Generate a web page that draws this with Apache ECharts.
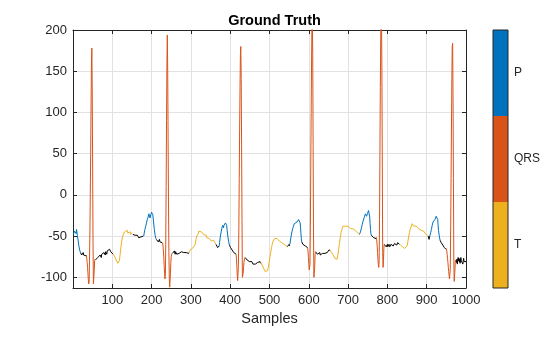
<!DOCTYPE html>
<html>
<head>
<meta charset="utf-8">
<script src="https://cdn.jsdelivr.net/npm/echarts/dist/echarts.min.js"></script>
<style>
  html, body { margin: 0; padding: 0; background: #fff; }
  #chart { width: 560px; height: 337px; }
</style>
</head>
<body>
<div id="chart"></div>
<script>
// ECG trace: [sample index, amplitude]
const ecgTrace = [
  [1,-48],[2,-46],[3,-47],[4,-44],[5,-46],[6,-45],[7,-43],[8,-47],[9,-42],[10,-44],[11,-49],[13,-55],[15,-62],[17,-67],[19,-70],
  [20,-72],[21,-69],[22,-73],[23,-71],[24,-74],[25,-72],[26,-70],[27,-73],[28,-72],[29,-75],[30,-71],[31,-73],[32,-72],[33,-74],[34,-73],
  [35,-77],[36,-82],[37,-88],[38,-95],[39,-103],[40,-108],[41,-105],[42,-80],[43,-45],[44,0],[45,50],[46,110],[47,160],[48,178],[49,120],[50,30],[51,-60],[52,-108],[53,-107],[54,-92],[55,-80],[56,-78],[57,-79],
  [58,-80],[59,-78],[60,-80],[61,-77],[62,-79],[63,-76],[64,-78],[65,-75],[66,-77],[67,-74],[68,-76],[69,-73],[70,-75],[71,-74],[72,-76],[73,-72],[74,-74],[75,-71],[76,-73],[77,-72],[78,-74],[79,-70],[80,-72],[81,-71],[82,-73],[83,-69],[84,-71],[85,-70],[86,-72],[87,-68],[88,-70],[89,-69],[90,-67],[91,-69],[92,-68],[93,-66],[94,-68],[95,-67],[96,-69],[97,-68],[98,-70],[99,-69],[100,-71],[101,-70],[102,-72],[103,-72],
  [104,-73],[106,-75],[108,-77],[110,-79],[112,-81],[114,-83],[116,-84],[118,-80],[120,-72],[122,-63],[124,-56],[126,-51],[128,-48],[130,-47],[131,-45],[132,-46],[134,-44],[135,-46],[136,-45],[138,-43],[139,-46],[140,-45],[142,-44],[143,-47],[144,-46],[146,-45],[147,-48],[148,-47],[150,-46],[152,-48],
  [153,-47],[154,-49],[155,-48],[156,-50],[157,-48],[158,-49],[159,-51],[160,-49],[161,-50],[162,-48],[163,-50],[164,-49],[165,-51],[166,-50],[167,-52],[168,-50],[169,-51],[170,-53],[171,-52],[172,-54],[173,-51],[174,-53],[175,-50],[176,-52],[177,-49],[178,-51],[179,-50],[180,-50],
  [181,-47],[183,-42],[184,-40],[185,-38],[186,-37],[187,-34],[188,-33],[189,-30],[190,-29],[191,-27],[192,-26],[193,-23],[194,-22],[195,-25],[196,-28],[197,-26],[198,-24],[199,-23],[200,-21],[201,-19],[202,-20],[203,-24],[205,-33],[207,-42],[209,-49],[211,-53],[212,-54],
  [213,-55],[214,-53],[215,-56],[216,-54],[217,-57],[218,-55],[219,-56],[220,-54],[221,-57],[222,-55],[223,-58],[224,-56],[225,-57],[226,-55],[227,-58],[228,-58],
  [229,-62],[230,-68],[231,-76],[232,-86],[233,-95],[234,-102],[235,-98],[236,-60],[237,10],[238,90],[239,160],[240,194],[241,150],[242,70],[243,-10],[244,-70],[245,-100],[246,-112],[247,-111],[248,-95],[249,-82],[250,-75],[251,-72],[252,-71],[253,-71],
  [254,-70],[255,-72],[256,-69],[257,-71],[258,-68],[259,-70],[260,-72],[261,-69],[262,-71],[263,-70],[264,-72],[265,-70],[266,-73],[267,-71],[268,-72],[269,-70],[270,-71],[271,-69],[272,-71],[273,-70],[274,-72],[275,-70],[276,-69],[277,-71],[278,-68],[279,-70],[280,-69],[281,-71],[282,-70],[283,-72],[284,-69],[285,-71],[286,-70],[287,-68],[288,-70],[289,-69],[290,-71],[291,-70],[292,-72],[293,-70],[294,-71],[295,-70],
  [296,-70],[298,-67],[300,-66],[302,-66],[304,-65],[306,-66],[307,-67],[309,-65],[311,-60],[313,-54],[315,-50],[317,-48],[319,-47],[320,-44],[321,-45],[323,-46],[324,-43],[325,-44],[327,-45],[328,-47],[329,-46],[331,-45],[332,-48],[333,-47],[335,-48],[336,-46],[337,-50],[339,-49],[340,-52],[341,-51],[343,-50],[344,-53],[345,-52],[347,-53],[348,-51],[349,-54],[351,-53],[352,-56],[353,-55],[355,-56],[357,-57],[358,-55],[359,-56],[361,-58],[363,-59],[364,-60],
  [365,-60],[366,-62],[367,-61],[368,-64],[369,-62],[370,-65],[371,-63],[372,-62],
  [373,-58],[375,-50],[377,-45],[379,-40],[380,-38],[381,-37],[382,-38],[383,-40],[384,-37],[385,-38],[386,-35],[387,-37],[388,-34],[389,-36],[390,-35],[391,-37],[392,-42],[394,-50],[396,-57],[398,-61],
  [399,-62],[400,-61],[401,-64],[402,-63],[403,-66],[404,-64],[405,-67],[406,-66],[407,-68],[408,-67],[409,-70],[410,-68],[411,-71],[412,-70],[413,-72],[414,-71],[415,-72],
  [416,-78],[417,-88],[418,-98],[419,-104],[420,-103],[421,-85],[422,-40],[423,20],[424,80],[425,130],[426,170],[427,180],[428,140],[429,60],[430,-30],[431,-100],[432,-102],[433,-95],[434,-88],[435,-82],[436,-79],[437,-77],[438,-76],
  [439,-77],[440,-75],[441,-78],[442,-76],[443,-79],[444,-77],[445,-78],[446,-80],[447,-78],[448,-79],[449,-81],[450,-79],[451,-80],[452,-82],[453,-80],[454,-82],[455,-81],[456,-83],[457,-81],[458,-84],[459,-82],[460,-84],[461,-83],[462,-85],[463,-83],[464,-84],[465,-86],[466,-84],[467,-85],[468,-83],[469,-84],[470,-82],[471,-83],[472,-81],[473,-82],[474,-80],[475,-82],[476,-81],[477,-83],[478,-82],
  [479,-83],[481,-85],[483,-87],[485,-89],[487,-91],[489,-93],[491,-95],[493,-95],[495,-92],[497,-88],[499,-82],[501,-76],[503,-70],[505,-64],[507,-60],[509,-56],[511,-54],[513,-53],[514,-51],[515,-52],[517,-54],[518,-52],[519,-53],[521,-55],[522,-53],[523,-54],[525,-56],[526,-54],[527,-55],[529,-57],[530,-55],[531,-58],[533,-57],[534,-59],[535,-59],[537,-60],[538,-58],[539,-59],[541,-61],[543,-62],[545,-63],
  [546,-62],[547,-64],[548,-61],[549,-63],[550,-60],[551,-62],[552,-60],
  [553,-56],[555,-50],[557,-45],[559,-41],[561,-38],[562,-36],[563,-35],[564,-34],[565,-33],[566,-35],[567,-37],[568,-36],[570,-33],[571,-34],[572,-31],[574,-30],[575,-32],[576,-29],[577,-31],[578,-34],[579,-40],[580,-47],[581,-53],[582,-57],
  [583,-58],[584,-57],[585,-60],[586,-58],[587,-61],[588,-59],[589,-62],[590,-60],[591,-62],[592,-61],[593,-63],[594,-62],[595,-64],[596,-63],[597,-64],
  [598,-68],[599,-76],[600,-84],[601,-91],[602,-92],[603,-85],[604,-40],[605,30],[606,100],[607,160],[608,205],[609,215],[610,170],[611,60],[612,-50],[613,-100],[614,-102],[615,-88],[616,-72],[617,-69],
  [618,-70],[619,-68],[620,-71],[621,-69],[622,-72],[623,-70],[624,-71],[625,-73],[626,-71],[627,-72],[628,-70],[629,-73],[630,-71],[631,-72],[632,-74],[633,-72],[634,-73],[635,-71],[636,-72],[637,-70],[638,-72],[639,-71],[640,-73],[641,-71],[642,-72],[643,-70],[644,-71],[645,-69],[646,-71],[647,-70],[648,-68],[649,-70],[650,-69],[651,-67],[652,-68],[653,-66],[654,-67],
  [656,-68],[658,-70],[660,-72],[662,-73],[664,-75],[666,-77],[668,-78],[670,-79],[672,-78],[674,-73],[676,-66],[678,-59],[680,-52],[682,-46],[684,-42],[686,-40],[687,-38],[688,-39],[690,-38],[691,-36],[692,-37],[694,-38],[695,-36],[696,-37],[698,-39],[699,-37],[700,-38],[702,-40],[703,-38],[704,-39],[706,-41],[707,-39],[708,-40],[710,-42],[711,-40],[712,-41],[714,-43],[716,-42],[718,-43],[720,-44],[722,-45],[724,-46],[726,-47],[728,-47],
  [729,-48],[730,-47],
  [732,-44],[734,-40],[736,-36],[738,-32],[740,-29],[742,-26],[743,-24],[744,-23],[745,-22],[746,-24],[747,-26],[748,-25],[749,-23],[750,-22],[751,-21],[752,-19],[753,-18],[754,-20],[755,-27],[756,-35],[757,-42],[758,-47],[759,-49],
  [760,-48],[761,-50],[762,-49],[763,-51],[764,-50],[765,-52],[766,-51],[767,-53],[768,-51],[769,-52],[770,-50],[771,-53],[772,-52],
  [773,-56],[774,-62],[775,-70],[776,-78],[777,-85],[778,-88],[779,-80],[780,-30],[781,50],[782,130],[783,190],[784,220],[785,215],[786,150],[787,40],[788,-70],[789,-88],[790,-80],[791,-65],[792,-60],
  [793,-61],[794,-59],[795,-62],[796,-60],[797,-63],[798,-61],[799,-62],[800,-60],[801,-63],[802,-61],[803,-62],[804,-60],[805,-61],[806,-63],[807,-61],[808,-62],[809,-60],[810,-62],[811,-61],[812,-59],[813,-61],[814,-60],[815,-62],[816,-60],[817,-61],[818,-59],[819,-61],[820,-60],[821,-58],[822,-60],[823,-59],[824,-61],[825,-60],[826,-58],[827,-60],[828,-59],[829,-60],[830,-58],[831,-60],[832,-60],
  [834,-61],[836,-62],[838,-63],[840,-64],[842,-64],[844,-65],[846,-66],[848,-65],[850,-62],[852,-57],[854,-51],[856,-46],[858,-42],[860,-39],[862,-37],[863,-35],[864,-37],[866,-36],[867,-38],[868,-38],[870,-37],[871,-39],[872,-39],[874,-38],[875,-40],[876,-40],[878,-39],[879,-41],[880,-41],[882,-40],[883,-42],[884,-42],[886,-43],[888,-44],[889,-42],[890,-45],[892,-44],[894,-46],[896,-47],[898,-46],[900,-48],[902,-49],[904,-50],
  [905,-52],[906,-54],[907,-51],[908,-50],
  [910,-46],[912,-42],[914,-37],[916,-33],[917,-31],[918,-32],[919,-34],[920,-32],[921,-30],[922,-29],[923,-28],[924,-26],[925,-25],[926,-24],[927,-25],[928,-30],[929,-37],[930,-43],[932,-50],[934,-55],
  [935,-56],[936,-55],[937,-58],[938,-57],[939,-60],[940,-58],[941,-61],[942,-60],[943,-63],[944,-61],[945,-64],[946,-62],[947,-65],[948,-64],[949,-66],[950,-65],
  [951,-68],[952,-72],[953,-77],[954,-82],[955,-88],[956,-93],[957,-98],[958,-102],[959,-103],[960,-90],[961,-40],[962,20],[963,80],[964,140],[965,180],[966,184],[967,120],[968,20],[969,-80],[970,-105],[971,-104],[972,-90],[973,-79],
  [974,-80],[975,-77],[976,-82],[977,-78],[978,-84],[979,-79],[980,-76],[981,-80],[982,-77],[983,-81],[984,-78],[985,-83],[986,-79],[987,-76],[988,-80],[989,-78],[990,-82],[991,-79],[992,-84],[993,-80],[994,-77],[995,-81],[996,-79],[997,-83],[998,-80],[999,-82],[1000,-81]
];

// Labelled regions: [first sample, last sample, label]
const regions = [
  [1,19,'P'],[19,34,'n/a'],[34,57,'QRS'],[57,103,'n/a'],[103,152,'T'],[152,180,'n/a'],
  [180,212,'P'],[212,228,'n/a'],[228,253,'QRS'],[253,295,'n/a'],[295,364,'T'],[364,372,'n/a'],
  [372,398,'P'],[398,415,'n/a'],[415,438,'QRS'],[438,478,'n/a'],[478,545,'T'],[545,552,'n/a'],
  [552,582,'P'],[582,597,'n/a'],[597,617,'QRS'],[617,654,'n/a'],[654,728,'T'],[728,730,'n/a'],
  [730,759,'P'],[759,772,'n/a'],[772,792,'QRS'],[792,832,'n/a'],[832,904,'T'],[904,908,'n/a'],
  [908,934,'P'],[934,950,'n/a'],[950,973,'QRS'],[973,1000,'n/a']
];

// Colour-bar classes, top to bottom
const classNames = ['P', 'QRS', 'T'];
const classColors = { P: '#0072BD', QRS: '#D95319', T: '#EDB120', 'n/a': '#000000' };

const xRange = [0, 1000];
const yRange = [-113, 200];

const FONT = '"Liberation Sans", Arial, Helvetica, sans-serif';
const INK = '#262626';
const GRIDLINE = '#e2e2e2';

// Each region becomes its own line piece; neighbouring pieces share their boundary sample.
function regionPoints(a, b) {
  let lo = 0, hi = ecgTrace.length - 1;
  for (let i = 0; i < ecgTrace.length; i++) { if (ecgTrace[i][0] <= a) lo = i; }
  for (let i = ecgTrace.length - 1; i >= 0; i--) { if (ecgTrace[i][0] >= b) hi = i; }
  return ecgTrace.slice(lo, hi + 1);
}

const traceSeries = regions.map(([a, b, lab]) => ({
  type: 'line',
  xAxisIndex: 0,
  yAxisIndex: 0,
  data: regionPoints(a, b),
  symbol: 'none',
  showSymbol: false,
  silent: true,
  animation: false,
  z: lab === 'n/a' ? 2 : 3,
  lineStyle: { color: classColors[lab], width: 1 }
}));

// Colour bar: one block per class (category axis runs bottom to top)
const barCategories = classNames.slice().reverse();
const colorBarSeries = {
  type: 'bar',
  xAxisIndex: 2,
  yAxisIndex: 2,
  barWidth: '100%',
  barCategoryGap: '0%',
  silent: true,
  animation: false,
  data: barCategories.map(c => ({ value: 1, itemStyle: { color: classColors[c] } }))
};

const mainTickLabel = { fontFamily: FONT, fontSize: 13, color: INK };

const chart = echarts.init(document.getElementById('chart'), null, { renderer: 'canvas' });
chart.setOption({
  animation: false,
  backgroundColor: '#ffffff',
  title: {
    text: 'Ground Truth',
    left: 269.5,
    top: 8,
    textAlign: 'center',
    textStyle: { fontFamily: FONT, fontSize: 14.5, fontWeight: 'bold', color: '#000' }
  },
  grid: [
    { left: 73, top: 30, width: 393, height: 258, containLabel: false },
    { left: 493, top: 30, width: 15, height: 258, show: true, borderColor: INK, borderWidth: 1,
      backgroundColor: 'transparent', z: 5 }
  ],
  xAxis: [
    {
      type: 'value', gridIndex: 0, position: 'bottom', min: xRange[0], max: xRange[1], interval: 100,
      name: 'Samples', nameLocation: 'middle', nameGap: 23,
      nameTextStyle: { fontFamily: FONT, fontSize: 14.5, color: INK },
      axisLine: { show: true, onZero: false, lineStyle: { color: INK, width: 1 } },
      axisTick: { show: true, inside: true, length: 4, lineStyle: { color: INK } },
      axisLabel: Object.assign({ margin: 6, formatter: v => (v === 0 ? '' : String(v)) }, mainTickLabel),
      splitLine: { show: true, lineStyle: { color: GRIDLINE, width: 1 } }
    },
    {
      type: 'value', gridIndex: 0, position: 'top', min: xRange[0], max: xRange[1], interval: 100,
      axisLine: { show: true, onZero: false, lineStyle: { color: INK, width: 1 } },
      axisTick: { show: true, inside: true, length: 4, lineStyle: { color: INK } },
      axisLabel: { show: false },
      splitLine: { show: false }
    },
    { type: 'value', gridIndex: 1, min: 0, max: 1, show: false }
  ],
  yAxis: [
    {
      type: 'value', gridIndex: 0, position: 'left', min: yRange[0], max: yRange[1], splitNumber: 6,
      axisLine: { show: true, onZero: false, lineStyle: { color: INK, width: 1 } },
      axisTick: { show: true, inside: true, length: 4, lineStyle: { color: INK } },
      axisLabel: Object.assign({ margin: 6, formatter: v => (v % 50 === 0 ? String(v) : '') }, mainTickLabel),
      splitLine: { show: true, lineStyle: { color: GRIDLINE, width: 1 } }
    },
    {
      type: 'value', gridIndex: 0, position: 'right', min: yRange[0], max: yRange[1], splitNumber: 6,
      axisLine: { show: true, onZero: false, lineStyle: { color: INK, width: 1 } },
      axisTick: { show: true, inside: true, length: 4, lineStyle: { color: INK } },
      axisLabel: { show: false },
      splitLine: { show: false }
    },
    {
      type: 'category', gridIndex: 1, position: 'right', data: barCategories,
      axisLine: { show: false }, axisTick: { show: false }, splitLine: { show: false },
      axisLabel: { margin: 6, fontFamily: FONT, fontSize: 12, color: INK }
    }
  ],
  series: traceSeries.concat([colorBarSeries])
});
</script>
</body>
</html>
